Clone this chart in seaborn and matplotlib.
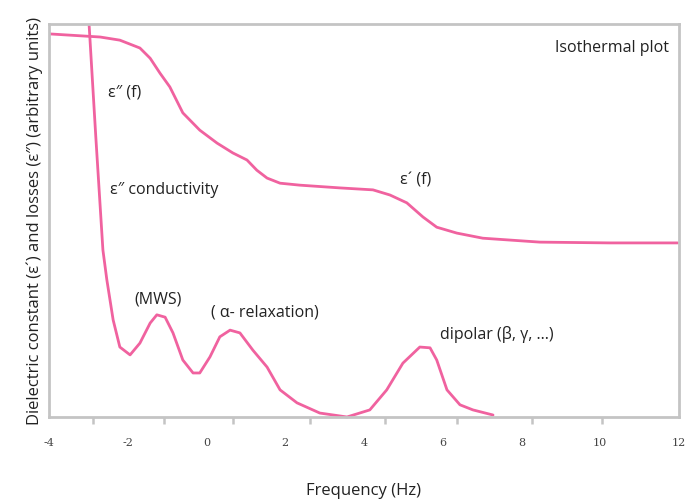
import matplotlib
matplotlib.use("Agg")
import matplotlib.pyplot as plt
import seaborn as sns

# Real part of the permittivity, eps'(f)
eps_real_x = [-4.00, -2.70, -2.20, -1.69, -1.43, -1.18, -0.93, -0.60, -0.17, 0.27,
              0.67, 1.03, 1.28, 1.54, 1.87, 2.37, 3.39, 4.23, 4.66, 5.09,
              5.50, 5.85, 6.36, 7.02, 8.47, 10.25, 11.97]
eps_real_y = [97.5, 96.7, 95.9, 93.9, 91.3, 87.5, 84.0, 77.4, 73.0, 69.7,
              67.2, 65.4, 62.8, 60.8, 59.5, 59.0, 58.3, 57.8, 56.5, 54.5,
              50.9, 48.3, 46.8, 45.5, 44.5, 44.3, 44.3]

# Dielectric losses, eps''(f): conductivity tail, MWS, alpha and dipolar peaks
eps_loss_x = [-2.98, -2.81, -2.63, -2.53, -2.37, -2.20, -1.94, -1.69, -1.43, -1.26,
              -1.05, -0.85, -0.60, -0.34, -0.17, 0.09, 0.34, 0.60, 0.85, 1.18,
              1.54, 1.87, 2.30, 2.88, 3.57, 4.15, 4.58, 4.99, 5.42, 5.68,
              5.85, 6.11, 6.44, 6.77, 7.28]
eps_loss_y = [99.7, 71.2, 42.5, 34.9, 24.7, 17.8, 15.8, 18.8, 23.9, 26.0,
              25.4, 21.4, 14.5, 11.2, 11.2, 15.3, 20.4, 22.1, 21.4, 17.0,
              12.7, 6.9, 3.6, 1.0, 0.0, 1.8, 6.9, 13.7, 17.8, 17.6,
              14.5, 6.9, 3.1, 1.8, 0.5]

tick_labels = ["-4", "-2", "0", "2", "4", "6", "8", "10", "12"]
tick_values = [-4, -2, 0, 2, 4, 6, 8, 10, 12]
tick_marks = [-2.88, -1.08, 0.67, 2.63, 4.53, 6.36, 8.27, 10.04]

sns.set_theme(style="white")
plt.rcParams["font.family"] = ["Open Sans", "DejaVu Sans"]

pink = "#f0629f"
grey = "#c4c4c4"

fig = plt.figure(figsize=(6.85, 5.01), dpi=100)
ax = fig.add_axes([0.0715, 0.1677, 0.9195, 0.7843])

line_kw = dict(color=pink, lw=2.0, sort=False, estimator=None,
               solid_joinstyle="round", solid_capstyle="round")
sns.lineplot(x=eps_real_x, y=eps_real_y, ax=ax, **line_kw)
sns.lineplot(x=eps_loss_x, y=eps_loss_y, ax=ax, clip_on=False, **line_kw)

ax.set_xlim(-4, 12)
ax.set_ylim(0, 100)

for s in ax.spines.values():
    s.set_color(grey)
    s.set_linewidth(2.0)

ax.set_yticks([])
ax.set_xticks(tick_values)
ax.set_xticklabels(tick_labels, fontsize=8, color="#444444",
                   family=["DejaVu Serif"])
ax.tick_params(axis="x", which="major", length=0, pad=15)
ax.set_xticks(tick_marks, minor=True)
ax.tick_params(axis="x", which="minor", length=5, width=1.8, color=grey,
               direction="out", bottom=True)

ax.set_xlabel("Frequency (Hz)", fontsize=12, color="#222222", labelpad=25)
ax.set_ylabel("Dielectric constant (ε´) and losses (ε″) (arbitrary units)",
              fontsize=12, color="#222222", labelpad=4)

txt = dict(fontsize=11.5, color="#222222", va="center")
ax.text(11.75, 94.0, "Isothermal plot", ha="right", **txt)
ax.text(-2.50, 82.7, "ε″ (f)", ha="left", **txt)
ax.text(-2.45, 57.8, "ε″ conductivity", ha="left", **txt)
ax.text(4.91, 60.3, "ε´ (f)", ha="left", **txt)
ax.text(-1.82, 29.8, "(MWS)", ha="left", **txt)
ax.text(0.11, 26.5, "( α- relaxation)", ha="left", **txt)
ax.text(5.93, 20.9, "dipolar (β, γ, ...)", ha="left", **txt)

fig.savefig("out.png", dpi=100)
